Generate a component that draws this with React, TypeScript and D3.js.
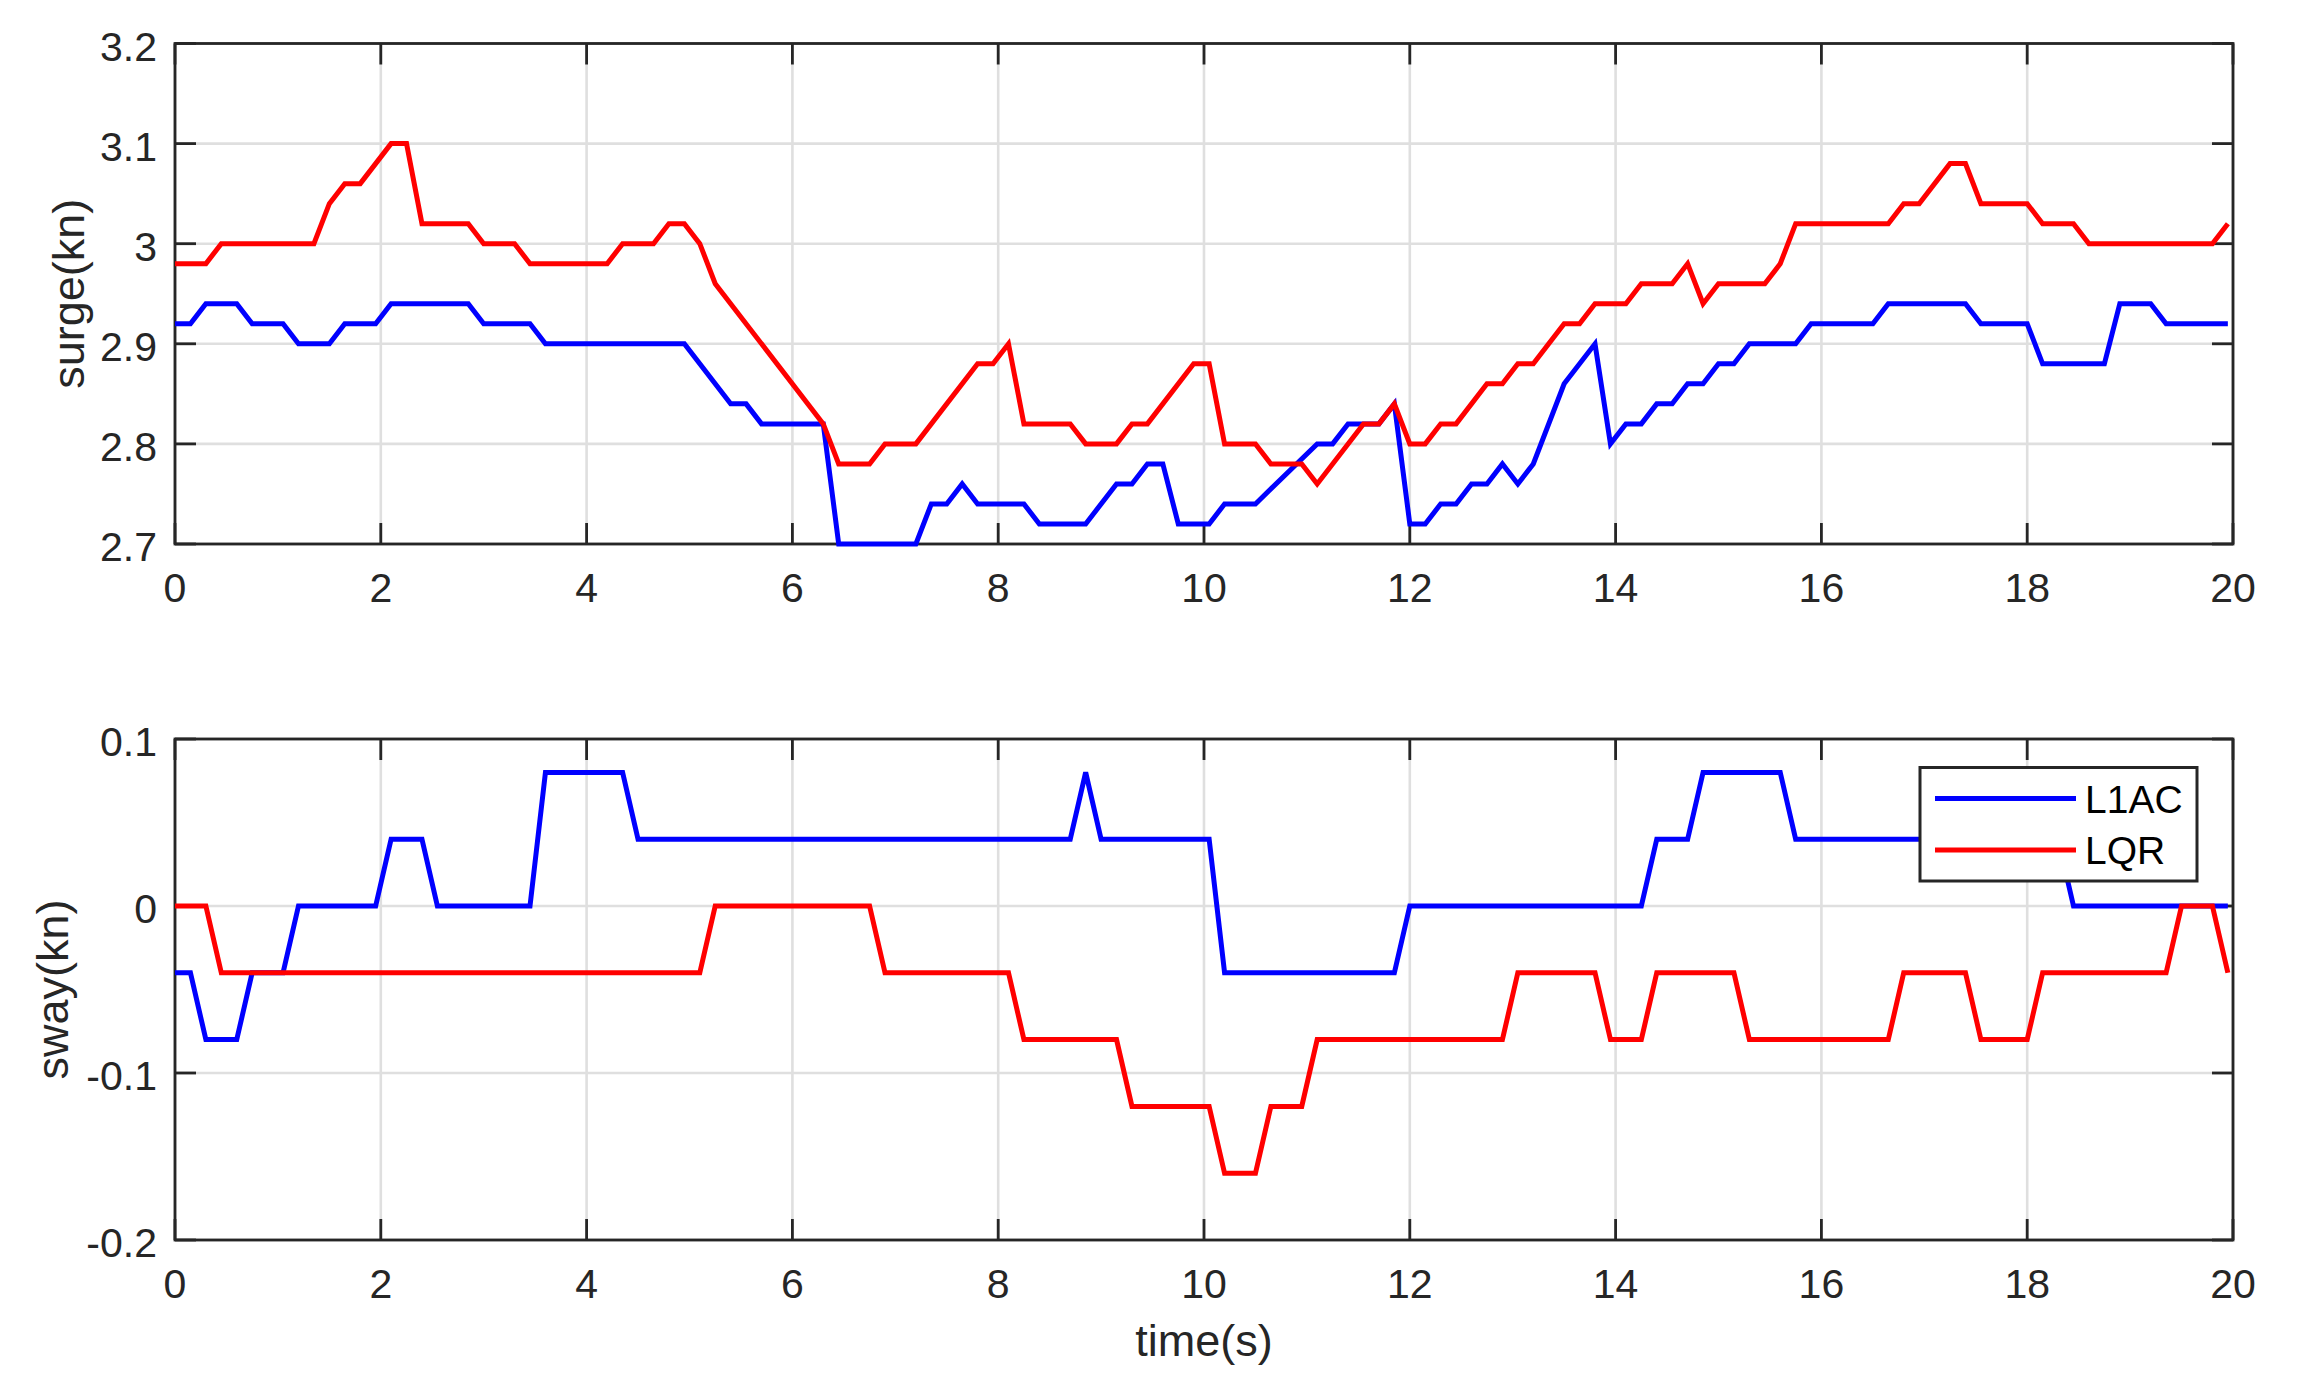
import React, { useRef, useEffect } from 'react';
import * as d3 from 'd3';

// time ticks shared by both panels
const timeTicks = [0, 2, 4, 6, 8, 10, 12, 14, 16, 18, 20];

const surgeTicks = [2.7, 2.8, 2.9, 3.0, 3.1, 3.2];
const surgeTickLabels = ['2.7', '2.8', '2.9', '3', '3.1', '3.2'];
const swayTicks = [-0.2, -0.1, 0, 0.1];
const swayTickLabels = ['-0.2', '-0.1', '0', '0.1'];

// [time (s), value (kn)] breakpoints
const surgeL1AC: [number, number][] = [
  [0, 2.92], [0.15, 2.92], [0.3, 2.94], [0.6, 2.94], [0.75, 2.92], [1.05, 2.92], [1.2, 2.9], [1.5, 2.9],
  [1.65, 2.92], [1.95, 2.92], [2.1, 2.94], [2.85, 2.94], [3.0, 2.92], [3.45, 2.92], [3.6, 2.9], [4.95, 2.9],
  [5.4, 2.84], [5.55, 2.84], [5.7, 2.82], [6.3, 2.82], [6.45, 2.7], [7.2, 2.7], [7.35, 2.74], [7.5, 2.74],
  [7.65, 2.76], [7.8, 2.74], [8.25, 2.74], [8.4, 2.72], [8.85, 2.72], [9.15, 2.76], [9.3, 2.76], [9.45, 2.78],
  [9.6, 2.78], [9.75, 2.72], [10.05, 2.72], [10.2, 2.74], [10.5, 2.74], [11.1, 2.8], [11.25, 2.8], [11.4, 2.82],
  [11.7, 2.82], [11.85, 2.84], [12.0, 2.72], [12.15, 2.72], [12.3, 2.74], [12.45, 2.74], [12.6, 2.76], [12.75, 2.76],
  [12.9, 2.78], [13.05, 2.76], [13.2, 2.78], [13.5, 2.86], [13.8, 2.9], [13.95, 2.8], [14.1, 2.82], [14.25, 2.82],
  [14.4, 2.84], [14.55, 2.84], [14.7, 2.86], [14.85, 2.86], [15.0, 2.88], [15.15, 2.88], [15.3, 2.9], [15.75, 2.9],
  [15.9, 2.92], [16.5, 2.92], [16.65, 2.94], [17.4, 2.94], [17.55, 2.92], [18.0, 2.92], [18.15, 2.88], [18.75, 2.88],
  [18.9, 2.94], [19.2, 2.94], [19.35, 2.92], [19.95, 2.92],
];

const surgeLQR: [number, number][] = [
  [0, 2.98], [0.3, 2.98], [0.45, 3.0], [1.35, 3.0], [1.5, 3.04], [1.65, 3.06], [1.8, 3.06], [2.1, 3.1],
  [2.25, 3.1], [2.4, 3.02], [2.85, 3.02], [3.0, 3.0], [3.3, 3.0], [3.45, 2.98], [4.2, 2.98], [4.35, 3.0],
  [4.65, 3.0], [4.8, 3.02], [4.95, 3.02], [5.1, 3.0], [5.25, 2.96], [6.3, 2.82], [6.45, 2.78], [6.75, 2.78],
  [6.9, 2.8], [7.2, 2.8], [7.8, 2.88], [7.95, 2.88], [8.1, 2.9], [8.25, 2.82], [8.7, 2.82], [8.85, 2.8],
  [9.15, 2.8], [9.3, 2.82], [9.45, 2.82], [9.9, 2.88], [10.05, 2.88], [10.2, 2.8], [10.5, 2.8], [10.65, 2.78],
  [10.95, 2.78], [11.1, 2.76], [11.55, 2.82], [11.7, 2.82], [11.85, 2.84], [12.0, 2.8], [12.15, 2.8], [12.3, 2.82],
  [12.45, 2.82], [12.75, 2.86], [12.9, 2.86], [13.05, 2.88], [13.2, 2.88], [13.5, 2.92], [13.65, 2.92], [13.8, 2.94],
  [14.1, 2.94], [14.25, 2.96], [14.55, 2.96], [14.7, 2.98], [14.85, 2.94], [15.0, 2.96], [15.45, 2.96], [15.6, 2.98],
  [15.75, 3.02], [16.65, 3.02], [16.8, 3.04], [16.95, 3.04], [17.25, 3.08], [17.4, 3.08], [17.55, 3.04], [18.0, 3.04],
  [18.15, 3.02], [18.45, 3.02], [18.6, 3.0], [19.8, 3.0], [19.95, 3.02],
];

const swayL1AC: [number, number][] = [
  [0, -0.04], [0.15, -0.04], [0.3, -0.08], [0.6, -0.08], [0.75, -0.04], [1.05, -0.04], [1.2, 0], [1.95, 0],
  [2.1, 0.04], [2.4, 0.04], [2.55, 0], [3.45, 0], [3.6, 0.08], [4.35, 0.08], [4.5, 0.04], [8.7, 0.04],
  [8.85, 0.08], [9.0, 0.04], [10.05, 0.04], [10.2, -0.04], [11.85, -0.04], [12.0, 0], [14.25, 0], [14.4, 0.04],
  [14.7, 0.04], [14.85, 0.08], [15.6, 0.08], [15.75, 0.04], [18.3, 0.04], [18.45, 0], [19.95, 0],
];

const swayLQR: [number, number][] = [
  [0, 0], [0.3, 0], [0.45, -0.04], [5.1, -0.04], [5.25, 0], [6.75, 0], [6.9, -0.04], [8.1, -0.04],
  [8.25, -0.08], [9.15, -0.08], [9.3, -0.12], [10.05, -0.12], [10.2, -0.16], [10.5, -0.16], [10.65, -0.12], [10.95, -0.12],
  [11.1, -0.08], [12.9, -0.08], [13.05, -0.04], [13.8, -0.04], [13.95, -0.08], [14.25, -0.08], [14.4, -0.04], [15.15, -0.04],
  [15.3, -0.08], [16.65, -0.08], [16.8, -0.04], [17.4, -0.04], [17.55, -0.08], [18.0, -0.08], [18.15, -0.04], [19.35, -0.04],
  [19.5, 0], [19.8, 0], [19.95, -0.04],
];

const legendItems = [
  { name: 'L1AC', color: '#0000ff' },
  { name: 'LQR', color: '#ff0000' },
];

const WIDTH = 2300;
const HEIGHT = 1384;
const FONT = '"Liberation Sans", Arial, Helvetica, sans-serif';
const INK = '#262626';

const panels = [
  {
    top: 43.5, bottom: 544, domain: [2.7, 3.2], ticks: surgeTicks, tickLabels: surgeTickLabels,
    ylabel: 'surge(kn)', ylabelX: 84, series: [surgeL1AC, surgeLQR], legend: false,
  },
  {
    top: 739, bottom: 1240, domain: [-0.2, 0.1], ticks: swayTicks, tickLabels: swayTickLabels,
    ylabel: 'sway(kn)', ylabelX: 68, series: [swayL1AC, swayLQR], legend: true,
  },
];

const App: React.FC = () => {
  const svgRef = useRef<SVGSVGElement | null>(null);

  useEffect(() => {
    if (!svgRef.current) return;
    const svg = d3.select(svgRef.current);
    svg.selectAll('*').remove();

    svg.append('rect').attr('width', WIDTH).attr('height', HEIGHT).attr('fill', '#fff');

    const left = 175;
    const right = 2233;
    const tickLen = 21;
    const x = d3.scaleLinear().domain([0, 20]).range([left, right]);

    panels.forEach(p => {
      const y = d3.scaleLinear().domain(p.domain).range([p.bottom, p.top]);
      const g = svg.append('g');

      // grid
      g.selectAll('.vgrid')
        .data(timeTicks)
        .join('line')
        .attr('x1', d => x(d)).attr('x2', d => x(d))
        .attr('y1', p.top).attr('y2', p.bottom)
        .attr('stroke', '#dfdfdf').attr('stroke-width', 2.6);
      g.selectAll('.hgrid')
        .data(p.ticks)
        .join('line')
        .attr('x1', left).attr('x2', right)
        .attr('y1', d => y(d)).attr('y2', d => y(d))
        .attr('stroke', '#dfdfdf').attr('stroke-width', 2.6);

      // frame
      g.append('rect')
        .attr('x', left).attr('y', p.top)
        .attr('width', right - left).attr('height', p.bottom - p.top)
        .attr('fill', 'none').attr('stroke', INK).attr('stroke-width', 2.8);

      // inward ticks on all four sides
      timeTicks.forEach(t => {
        g.append('line').attr('x1', x(t)).attr('x2', x(t)).attr('y1', p.bottom).attr('y2', p.bottom - tickLen)
          .attr('stroke', INK).attr('stroke-width', 2.8);
        g.append('line').attr('x1', x(t)).attr('x2', x(t)).attr('y1', p.top).attr('y2', p.top + tickLen)
          .attr('stroke', INK).attr('stroke-width', 2.8);
      });
      p.ticks.forEach(v => {
        g.append('line').attr('x1', left).attr('x2', left + tickLen).attr('y1', y(v)).attr('y2', y(v))
          .attr('stroke', INK).attr('stroke-width', 2.8);
        g.append('line').attr('x1', right).attr('x2', right - tickLen).attr('y1', y(v)).attr('y2', y(v))
          .attr('stroke', INK).attr('stroke-width', 2.8);
      });

      // tick labels
      g.selectAll('.xlab')
        .data(timeTicks)
        .join('text')
        .attr('x', d => x(d))
        .attr('y', p.bottom + 58)
        .attr('text-anchor', 'middle')
        .style('font-family', FONT).style('font-size', '41px').style('fill', INK)
        .text(d => String(d));
      g.selectAll('.ylab')
        .data(p.ticks)
        .join('text')
        .attr('x', left - 18)
        .attr('y', d => y(d) + 17)
        .attr('text-anchor', 'end')
        .style('font-family', FONT).style('font-size', '41px').style('fill', INK)
        .text((_, i) => p.tickLabels[i]);

      // y label
      g.append('text')
        .attr('transform', `translate(${p.ylabelX},${(p.top + p.bottom) / 2}) rotate(-90)`)
        .attr('text-anchor', 'middle')
        .style('font-family', FONT).style('font-size', '45px').style('fill', INK)
        .text(p.ylabel);

      // data
      const line = d3.line<[number, number]>()
        .x(d => x(d[0]))
        .y(d => y(d[1]));
      p.series.forEach((s, i) => {
        g.append('path')
          .datum(s)
          .attr('d', line)
          .attr('fill', 'none')
          .attr('stroke', legendItems[i].color)
          .attr('stroke-width', 5)
          .attr('stroke-linejoin', 'miter');
      });

      if (p.legend) {
        const lg = svg.append('g').attr('transform', 'translate(1920,767.5)');
        lg.append('rect')
          .attr('width', 277).attr('height', 113.5)
          .attr('fill', '#fff').attr('stroke', INK).attr('stroke-width', 3);
        const item = lg.selectAll('.legend-item')
          .data(legendItems)
          .join('g')
          .attr('transform', (_, i) => `translate(0,${31 + i * 51.5})`);
        item.append('line')
          .attr('x1', 15).attr('x2', 156)
          .attr('stroke', d => d.color).attr('stroke-width', 5);
        item.append('text')
          .attr('x', 165).attr('y', 14)
          .style('font-family', FONT).style('font-size', '39px').style('fill', '#000')
          .text(d => d.name);
      }
    });

    // x label
    svg.append('text')
      .attr('x', (left + right) / 2)
      .attr('y', 1356)
      .attr('text-anchor', 'middle')
      .style('font-family', FONT).style('font-size', '45px').style('fill', INK)
      .text('time(s)');
  }, []);

  return (
    <svg
      ref={svgRef}
      width={WIDTH}
      height={HEIGHT}
      style={{ position: 'absolute', left: 0, top: 0, display: 'block' }}
    ></svg>
  );
};

export default App;
